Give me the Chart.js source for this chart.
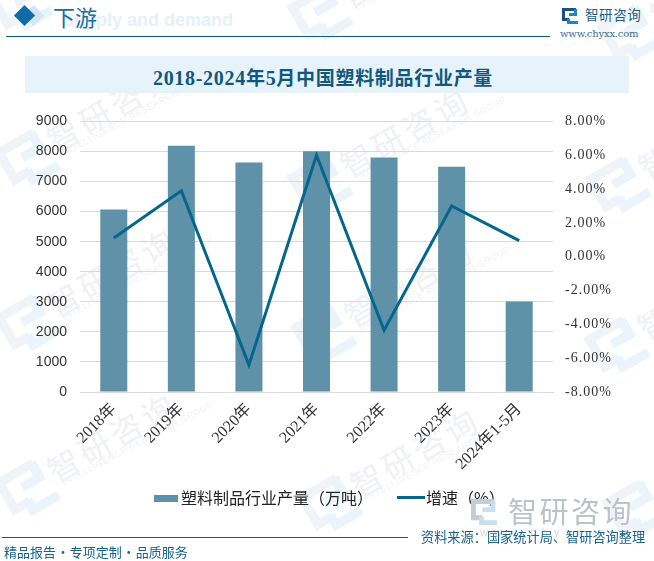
<!DOCTYPE html>
<html>
<head>
<meta charset="utf-8">
<script src="https://cdn.jsdelivr.net/npm/chart.js@4"></script>
<style>
  html, body { margin: 0; padding: 0; background: #fff; }
  #page { position: relative; width: 654px; height: 561px; overflow: hidden; font-family: "Noto Sans CJK SC", sans-serif; }
  #page div, #page svg { position: absolute; white-space: nowrap; }
  #chartBox { left: 0; top: 100px; width: 654px; height: 420px; }
  .mark { color: #eff1f4; font-size: 32px; letter-spacing: 4px; line-height: 40px; transform: rotate(-30deg); transform-origin: left center; }
  .markSub { color: #f1f3f5; font: 9px "Liberation Sans"; letter-spacing: 0.6px; transform: rotate(-28deg); transform-origin: left center; }
</style>
</head>
<body>
<div id="page">
  <div id="marks"></div>

  <div style="left:26px;top:8px;width:15px;height:15px;background:#d5e6f2;transform:rotate(45deg)"></div>
  <div style="left:17px;top:8px;width:15px;height:15px;background:#0f6ca8;transform:rotate(45deg)"></div>
  <div style="left:62px;top:10px;color:#e6f0f8;font:bold 18px 'Liberation Sans'">Supply and demand</div>
  <div style="left:53px;top:1px;color:#1a6da0;font-size:22px;line-height:30px">下游</div>
  <div style="left:6px;top:36px;width:544px;height:1px;background:#0b5c85"></div>
  <div style="left:585px;top:4px;color:#1c5a8a;font-size:13.5px;letter-spacing:0.6px;line-height:20px">智研咨询</div>
  <svg style="left:562px;top:8px" width="16" height="16" viewBox="0 0 16 16">
    <path d="M0 0H14V3H3V10H7V13H0Z" fill="#1d4f88"/>
    <path d="M7 5H12V1H15V8H7ZM5 11H8V13H16V16H5Z" fill="#1b86c8"/>
  </svg>
  <div style="left:560px;top:28px;color:#3a6d8f;font:10px 'DejaVu Serif';letter-spacing:-0.2px">www.chyxx.com</div>

  <div style="left:25px;top:56px;width:604px;height:37px;background:#e6f3fb"></div>
  <div id="title" style="left:21px;top:56px;width:604px;text-align:center;color:#11587f;font-weight:bold;font-size:19px;letter-spacing:0.7px;line-height:41px"><span style="font-family:'Liberation Serif';font-size:20px">2018-2024</span>年<span style="font-family:'Liberation Serif';font-size:20px">5</span>月中国塑料制品行业产量</div>

  <div id="chartBox"><canvas id="myChart" width="654" height="420"></canvas></div>

  <div style="left:508px;top:490px;color:#bcc2c9;font-size:29px;letter-spacing:2.5px;line-height:40px">智研咨询</div>
  <svg style="left:471px;top:499px" width="26" height="26" viewBox="0 0 16 16">
    <path d="M0 0H14V3H3V10H7V13H0Z" fill="#c3cdd8"/>
    <path d="M7 5H12V1H15V8H7ZM5 11H8V13H16V16H5Z" fill="#c6e0f0"/>
  </svg>
  <div style="left:480px;top:526px;color:#d3d7db;font:11px 'Liberation Sans';letter-spacing:6px">www.chyxx.com</div>
  <div style="left:2px;top:537px;width:406px;height:1px;background:#0b5c85"></div>
  <div style="left:421px;top:528px;color:#17628f;font-size:13.2px;line-height:18px">资料来源：国家统计局、智研咨询整理</div>
  <div style="left:4px;top:543px;color:#17628f;font-size:13px;word-spacing:-2.5px;line-height:18px">精品报告 · 专项定制 · 品质服务</div>
</div>

<script>
const categories = ['2018年', '2019年', '2020年', '2021年', '2022年', '2023年', '2024年1-5月'];
const outputValues = [6070, 8190, 7630, 8010, 7800, 7490, 3010];
const growthValues = [1.1, 3.9, -6.4, 6.0, -4.35, 3.0, 0.95];
const outputLabel = '塑料制品行业产量（万吨）';
const growthLabel = '增速（%）';

// watermark logo centres, decoration behind the chart
const markSpots = [[20, 5], [320, 15], [630, 35], [27, 160], [320, 185], [618, 187], [27, 325], [324, 335], [617, 347], [27, 490], [330, 505], [635, 510]];
const marksEl = document.getElementById('marks');
markSpots.forEach(p => {
  const l = document.createElementNS('http://www.w3.org/2000/svg', 'svg');
  l.setAttribute('viewBox', '0 0 16 16');
  l.setAttribute('width', 50);
  l.setAttribute('height', 50);
  l.style.left = (p[0] - 25) + 'px';
  l.style.top = (p[1] - 25) + 'px';
  l.style.transform = 'rotate(-30deg)';
  l.innerHTML = '<path d="M0 0H14V3H3V10H7V13H0Z" fill="#f0f3f7"/><path d="M7 5H12V1H15V8H7ZM5 11H8V13H16V16H5Z" fill="#eaf4fa"/>';
  marksEl.appendChild(l);

  const m = document.createElement('div');
  m.className = 'mark';
  m.style.left = (p[0] + 22) + 'px';
  m.style.top = (p[1] - 38) + 'px';
  m.textContent = '智研咨询';
  marksEl.appendChild(m);

  const s = document.createElement('div');
  s.className = 'markSub';
  s.style.left = (p[0] + 36) + 'px';
  s.style.top = (p[1] - 12) + 'px';
  s.textContent = 'INTELLIGENCE RESEARCH GROUP';
  marksEl.appendChild(s);
});

const config = {
  type: 'bar',
  data: {
    labels: categories,
    datasets: [
      {
        type: 'line',
        label: growthLabel,
        data: growthValues,
        yAxisID: 'y2',
        borderColor: '#05668d',
        backgroundColor: '#05668d',
        borderWidth: 3,
        pointRadius: 0,
        tension: 0,
        order: 1
      },
      {
        label: outputLabel,
        data: outputValues,
        yAxisID: 'y1',
        backgroundColor: '#5f92a9',
        barPercentage: 0.4,
        categoryPercentage: 1,
        order: 2
      }
    ]
  },
  options: {
    responsive: false,
    animation: false,
    layout: { padding: { left: 0, right: 0, top: 20, bottom: 0 } },
    plugins: { legend: { display: false }, tooltip: { enabled: false } },
    scales: {
      x: {
        afterFit: s => { s.height = 128; },
        grid: { display: false, drawTicks: false },
        border: { color: '#d9d9d9' },
        ticks: {
          color: '#333',
          font: { family: '"Liberation Serif", "Noto Sans CJK SC"', size: 16 },
          maxRotation: 45,
          minRotation: 45,
          padding: 8
        }
      },
      y1: {
        position: 'left',
        min: 0,
        max: 9000,
        afterFit: s => { s.width = 80; },
        grid: { color: '#d9d9d9', drawTicks: false },
        border: { display: false },
        ticks: {
          stepSize: 1000,
          color: '#333',
          font: { family: '"Liberation Sans"', size: 14 },
          padding: 13,
          callback: v => String(v)
        }
      },
      y2: {
        position: 'right',
        min: -8,
        max: 8,
        afterFit: s => { s.width = 101; },
        grid: { display: false, drawTicks: false },
        border: { display: false },
        ticks: {
          stepSize: 2,
          color: '#333',
          font: { family: '"Liberation Serif"', size: 14 },
          padding: 12,
          callback: v => v.toFixed(2) + '%'
        }
      }
    }
  },
  plugins: [{
    id: 'legendRow',
    beforeDraw(chart) {
      // right axis labels are spaced wider than the font gives
      const s = chart.scales.y2;
      if (!s.spaced) {
        const draw = s.drawLabels.bind(s);
        s.drawLabels = area => {
          chart.ctx.letterSpacing = '1px';
          draw(area);
          chart.ctx.letterSpacing = '0px';
        };
        s.spaced = true;
      }
    },
    afterDraw(chart) {
      const c = chart.ctx;
      c.save();
      c.font = '16px "Noto Sans CJK SC"';
      c.textBaseline = 'middle';
      c.fillStyle = '#5f92a9';
      c.fillRect(154, 395, 24, 7);
      c.fillStyle = '#222';
      c.fillText(outputLabel, 181, 398);
      c.fillStyle = '#05668d';
      c.fillRect(397, 396, 28, 3);
      c.fillStyle = '#222';
      c.fillText(growthLabel, 426, 398);
      c.restore();
    }
  }]
};

const myChart = new Chart(document.getElementById('myChart'), config);
</script>
</body>
</html>
